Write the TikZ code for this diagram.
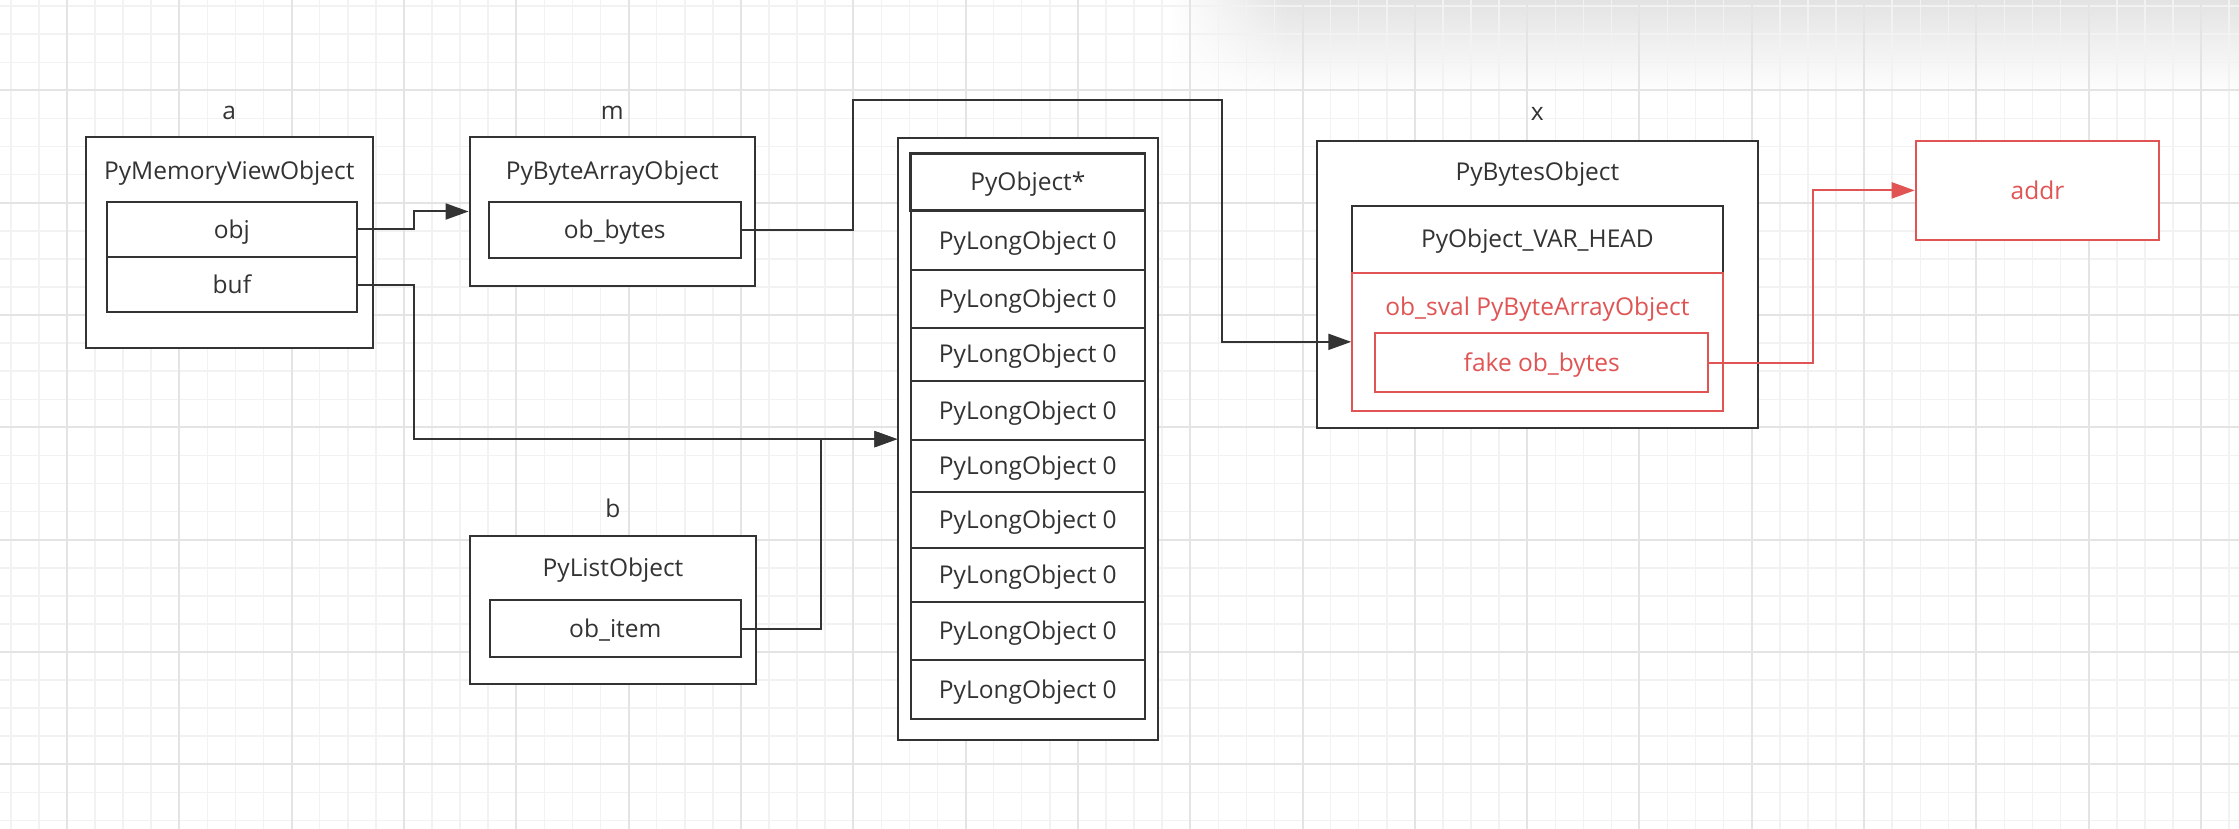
\documentclass[tikz,border=0pt]{standalone}
\usepackage{fontspec}
\setmainfont{Open Sans}
\usetikzlibrary{arrows.meta,fadings}
\definecolor{ink}{HTML}{333333}
\definecolor{redc}{RGB}{224,84,84}
\definecolor{gridminor}{HTML}{F2F2F2}
\definecolor{gridmajor}{HTML}{E4E4E4}
\tikzfading[name=fadeinright, left color=transparent!100, right color=transparent!0]
\begin{document}
\begin{tikzpicture}[x=1pt,y=-1pt,
  txt/.style={font=\fontsize{24.5}{29}\selectfont, text=ink, inner sep=0pt, text height=17.5pt, text depth=0pt},
  box/.style={draw=ink, line width=2pt, fill=white, inner sep=0pt},
  cell/.style={box, txt},
  conn/.style={draw=ink, line width=2pt, -{Triangle[length=23pt,width=16pt]}},
  connred/.style={conn, draw=redc, -{Triangle[length=23pt,width=16pt,fill=redc]}}
]
\useasboundingbox (0,0) rectangle (2239,829);
\fill[white] (0,0) rectangle (2239,829);
% shadow of a floating panel (top right)
\shade[top color=black!11, bottom color=white] (1290,0) rectangle (2239,95);
\shade[top color=black!11, bottom color=white, path fading=fadeinright] (1170,0) rectangle (1290,95);
% background grid
\foreach \k in {0,...,79} \draw[gridminor, line width=1.5pt] ({10.84+28.08*\k},0) -- ++(0,829);
\foreach \k in {0,...,29} \draw[gridminor, line width=1.5pt] (0,{6.16+28.08*\k}) -- ++(2239,0);
\foreach \k in {0,...,19} \draw[gridmajor, line width=2pt] ({67+112.32*\k},0) -- ++(0,829);
\foreach \k in {0,...,6} \draw[gridmajor, line width=2pt] (0,{90.4+112.32*\k}) -- ++(2239,0);

% a : PyMemoryViewObject
\node[txt] (la) at (229.3,110.8) {a};
\node[box, minimum width=286.6pt, minimum height=210.4pt] (A) at (229.3,242.5) {};
\node[txt] (Atitle) at (229.3,170.4) {PyMemoryViewObject};
\node[cell, minimum width=250.2pt, minimum height=55pt] (obj) at (231.9,229.5) {obj};
\node[cell, minimum width=250.2pt, minimum height=55pt] (buf) at (231.9,284.5) {buf};

% m : PyByteArrayObject
\node[txt] (lm) at (612.3,110.8) {m};
\node[box, minimum width=285.4pt, minimum height=148.4pt] (M) at (612.3,211.5) {};
\node[txt] (Mtitle) at (612.3,170.7) {PyByteArrayObject};
\node[cell, minimum width=251.5pt, minimum height=55.4pt] (obbytes) at (614.8,230) {ob\_bytes};

% b : PyListObject
\node[txt] (lb) at (613,508.5) {b};
\node[box, minimum width=286pt, minimum height=148.3pt] (B) at (613,609.9) {};
\node[txt] (Btitle) at (613,568) {PyListObject};
\node[cell, minimum width=251pt, minimum height=56.4pt] (obitem) at (615.3,628.5) {ob\_item};

% array
\node[box, minimum width=260pt, minimum height=601.7pt] (Arr) at (1028.3,439.15) {};
\foreach \t/\b [count=\i] in {210.7/270, 270/327.7, 327.7/380.7, 380.7/440.3, 440.3/491.7, 491.7/548.3, 548.3/601.7, 601.7/660, 660/718.7}
  \node[cell, minimum width=234.3pt, minimum height={\b-\t}] (c\i) at (1027.85,{(\t+\b)/2}) {PyLongObject 0};
\node[cell, line width=2.8pt, minimum width=234.3pt, minimum height=57.4pt] (c0) at (1027.85,182) {PyObject*};

% x : PyBytesObject
\node[txt] (lx) at (1537.4,111.3) {x};
\node[box, minimum width=441.1pt, minimum height=287.6pt] (X) at (1537.4,284.5) {};
\node[txt] (Xtitle) at (1537.4,171.7) {PyBytesObject};
\node[cell, minimum width=370.3pt, minimum height=67pt] (head) at (1537.4,239.2) {PyObject\_VAR\_HEAD};
\node[box, draw=redc, minimum width=370.3pt, minimum height=138.3pt] (sval) at (1537.4,341.85) {};
\node[txt, text=redc] (svaltitle) at (1537.4,307) {ob\_sval PyByteArrayObject};
\node[cell, draw=redc, text=redc, minimum width=333.1pt, minimum height=59.6pt] (fake) at (1541.8,362.5) {fake ob\_bytes};

% addr
\node[cell, draw=redc, text=redc, minimum width=243.6pt, minimum height=99.3pt] (addr) at (2037.5,190.4) {addr};

% connectors
\coordinate (t1) at (853,100);
\coordinate (t2) at (1222,100);
\draw[conn] (obj.east) -- ++(56.3,0) |- (M.west);
\draw[conn] (buf.east) -- ++(56.3,0) |- (Arr.west);
\draw[conn] (obitem.east) -- ++(79.2,0) |- (Arr.west);
\draw[conn] (obbytes.east) -| (t1) -- (t2) |- (sval.west);
\draw[connred] (fake.east) -- ++(103.7,0) |- (addr.west);
\end{tikzpicture}
\end{document}
